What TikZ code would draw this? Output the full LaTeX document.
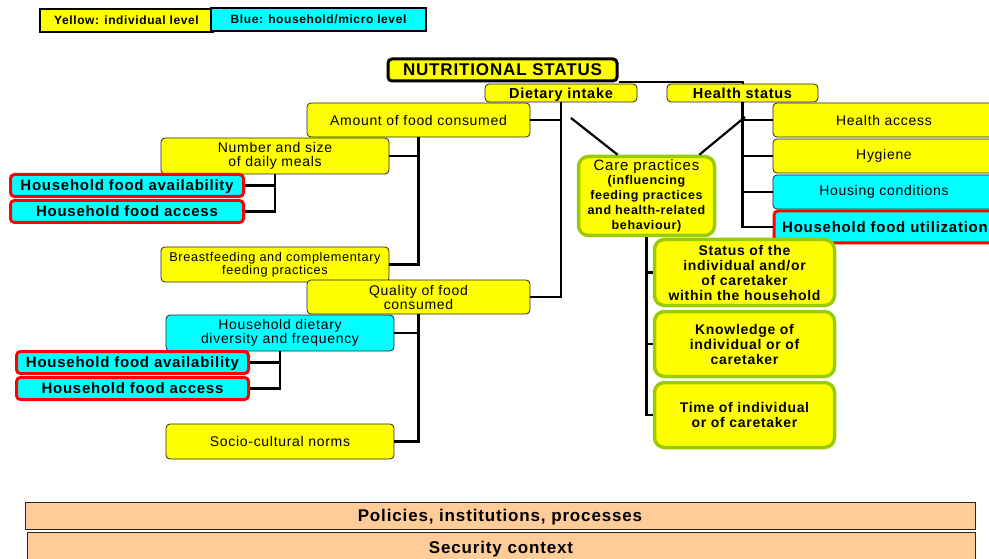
\documentclass[tikz,border=0pt]{standalone}
\usepackage{fontspec}
\setmainfont{Liberation Sans}[LetterSpace=5]
\definecolor{ylw}{HTML}{FFFF00}
\definecolor{cyn}{HTML}{00FFFF}
\definecolor{rd}{HTML}{FF0000}
\definecolor{grn}{HTML}{99CC00}
\definecolor{pch}{HTML}{FFCC99}
\newcommand\fs[2]{\fontsize{#1}{#2}\selectfont}
\tikzset{
  wh/.style 2 args={minimum width=#1pt, minimum height=#2pt},
  base/.style={rounded corners=4pt, align=center, inner sep=0pt, draw=black!85, line width=0.8pt, font=\fs{14}{14}},
  ybox/.style={base, fill=ylw},
  cbox/.style={base, fill=cyn},
  rbox/.style={base, fill=cyn, draw=rd, line width=3pt, font=\bfseries\fs{15}{16}, text depth=0pt},
  gbox/.style={base, fill=ylw, draw=grn, line width=3.5pt, rounded corners=10pt, font=\bfseries\fs{14}{15}},
  legbox/.style={draw=black, line width=1.2pt, inner sep=0pt, font=\bfseries\fs{12}{13}, text depth=0pt},
  hbox/.style={base, fill=ylw, font=\bfseries\fs{14.5}{15}, text depth=0pt},
  pbox/.style={draw=black!85, line width=0.8pt, fill=pch, inner sep=0pt, font=\bfseries\fs{17}{18}, text depth=0pt},
  conn/.style={line width=2.8pt, black},
}
\begin{document}
\begin{tikzpicture}[x=1pt,y=-1pt]
\useasboundingbox (0,0) rectangle (989,559);
\clip (0,0) rectangle (989,559);
\fill[white] (0,0) rectangle (989,559);
% legend
\node[legbox, fill=ylw, wh={173}{23}] (ly) at (126.5,20.5) {Yellow: individual level};
\node[legbox, fill=cyn, wh={215}{23}] (lc) at (318.5,19.5) {Blue: household/micro level};
% top
\node[base, fill=ylw, draw=black, line width=3pt, wh={229}{22}, font=\bfseries\fs{17}{18}, text depth=0pt] (nut) at (502.5,70) {NUTRITIONAL STATUS};
\node[hbox, wh={152}{18}] (di) at (561,93) {Dietary intake};
\node[hbox, wh={151}{18}] (hs) at (742.5,93) {Health status};
% left tree
\node[ybox, wh={223}{34}] (am) at (418.5,120) {Amount of food consumed};
\node[ybox, wh={228}{36}] (ns) at (275,156) {Number and size\\of daily meals};
\node[ybox, wh={228}{35}, font=\fs{12.7}{13}] (bf) at (275,264.5) {Breastfeeding and complementary\\feeding practices};
\node[rbox, wh={233}{22}] (hfa1) at (127,185.5) {Household food availability};
\node[rbox, wh={233}{22}] (hac1) at (127,211.5) {Household food access};
\node[ybox, wh={223}{34}] (qf) at (418.5,297) {Quality of food\\consumed};
\node[cbox, wh={228}{36}] (hdd) at (280,333) {Household dietary\\diversity and frequency};
\node[ybox, wh={228}{35}] (sc) at (280,441.5) {Socio-cultural norms};
\node[rbox, wh={232}{22}] (hfa2) at (132.5,362.5) {Household food availability};
\node[rbox, wh={232}{22}] (hac2) at (132.5,388.5) {Household food access};
% right tree
\node[ybox, wh={222}{34}] (ha) at (884,120) {Health access};
\node[ybox, wh={222}{34}] (hy) at (884,156) {Hygiene};
\node[cbox, wh={222}{34}] (hc) at (884,192) {Housing conditions};
\node[rbox, wh={222}{32}] (hfu) at (885,227) {Household food utilization};
% care
\node[gbox, wh={136}{79}] (care) at (646.5,196) {{\mdseries\fs{15}{14}Care practices}\\[-1pt]{\fs{12.5}{13.5}(influencing}\\{\fs{12.5}{13.5}feeding practices}\\{\fs{12.5}{13.5}and health-related}\\{\fs{12.5}{13.5}behaviour)}};
\node[gbox, wh={180}{66}] (st) at (744.5,272.5) {Status of the\\individual and/or\\of caretaker\\within the household};
\node[gbox, wh={180}{65}] (kn) at (744.5,344) {Knowledge of\\individual or of\\caretaker};
\node[gbox, wh={180}{65}] (tm) at (744.5,415) {Time of individual\\or of caretaker};
% bottom
\node[pbox, wh={950}{27}] (pol) at (500,515.5) {Policies, institutions, processes};
\node[pbox, wh={948}{30}] (sec) at (501,547) {Security context};
% coordinates for free lines
\coordinate (c1) at (571,118);
\coordinate (c2) at (745,117);
% connectors
\draw[line width=2pt] (nut.south east) -| (hs.north);
\draw[conn] (di.south) -- (di.south |- qf.east) -- (qf.east);
\draw[conn] (am.east) -- (am.east -| di.south);
\draw[conn] (am.south) -- (am.south |- bf.east) -- (bf.east);
\draw[conn] (ns.east) -- (ns.east -| am.south);
\draw[conn] (ns.south) -- (ns.south |- hac1.east) -- (hac1.east);
\draw[conn] (hfa1.east) -- (hfa1.east -| ns.south);
\draw[conn] (qf.south) -- (qf.south |- sc.east) -- (sc.east);
\draw[conn] (hdd.east) -- (hdd.east -| qf.south);
\draw[conn] (hdd.south) -- (hdd.south |- hac2.east) -- (hac2.east);
\draw[conn] (hfa2.east) -- (hfa2.east -| hdd.south);
\draw[conn] (hs.south) -- (hs.south |- hfu.west) -- (hfu.west);
\draw[conn] (ha.west) -- (ha.west -| hs.south);
\draw[conn] (hy.west) -- (hy.west -| hs.south);
\draw[conn] (hc.west) -- (hc.west -| hs.south);
\draw[conn] (care.south) -- (care.south |- tm.west) -- (tm.west);
\draw[conn] (st.west) -- (st.west -| care.south);
\draw[conn] (kn.west) -- (kn.west -| care.south);
\draw[line width=2.2pt] (c1) -- (care.125);
\draw[line width=2.2pt] (c2) -- (care.38);
\end{tikzpicture}
\end{document}
